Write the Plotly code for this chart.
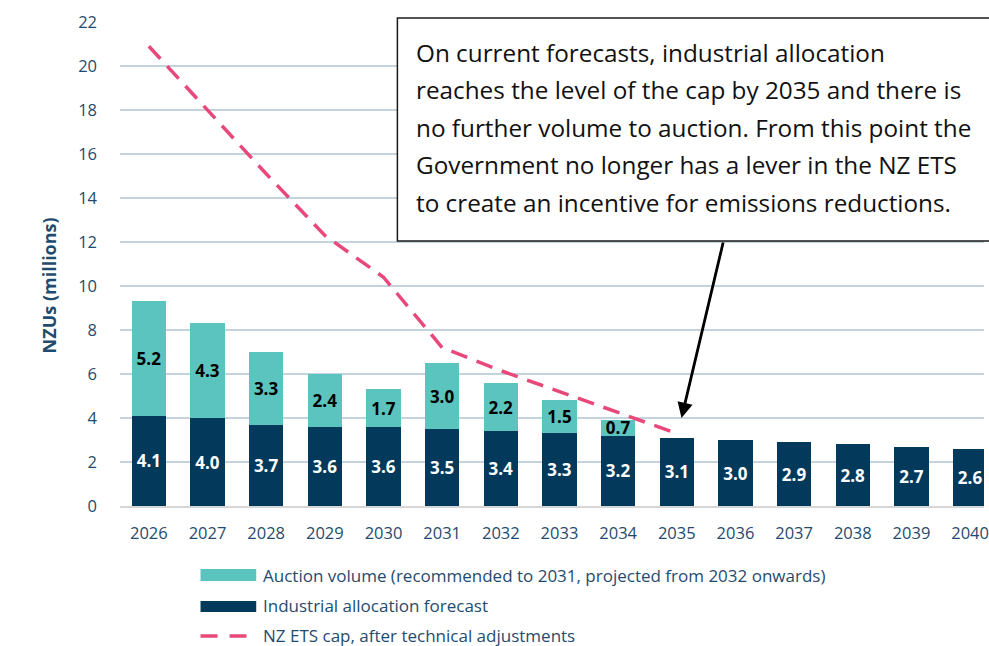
import plotly.graph_objects as go

years = list(range(2026, 2041))
industrial = [4.1, 4.0, 3.7, 3.6, 3.6, 3.5, 3.4, 3.3, 3.2, 3.1, 3.0, 2.9, 2.8, 2.7, 2.6]
auction = [5.2, 4.3, 3.3, 2.4, 1.7, 3.0, 2.2, 1.5, 0.7, None, None, None, None, None, None]
cap_years = list(range(2026, 2036))
cap = [20.9, 18.0, 15.1, 12.3, 10.4, 7.2, 6.15, 5.2, 4.25, 3.3]
y_ticks = list(range(0, 23, 2))

y_title = "NZUs (millions)"
legend_labels = [
    "Auction volume (recommended to 2031, projected from 2032 onwards)",
    "Industrial allocation forecast",
    "NZ ETS cap, after technical adjustments",
]
note_lines = [
    "On current forecasts, industrial allocation",
    "reaches the level of the cap by 2035 and there is",
    "no further volume to auction. From this point the",
    "Government no longer has a lever in the NZ ETS",
    "to create an incentive for emissions reductions.",
]

TEAL = "#5BC4BE"
NAVY = "#03395B"
PINK = "#E8487A"
GRID = "#C3D4DD"
TXT = "#1F4B6E"
FONT = "Open Sans"

W, H = 989, 646
L, R, T, B = 120, 0, 22, 140
PW, PH = W - L - R, H - T - B


def px(x):
    return (x - L) / PW


def py(y):
    return (H - B - y) / PH


fig = go.Figure()

fig.add_trace(go.Bar(
    x=years, y=industrial, name=legend_labels[1], marker=dict(color=NAVY, line=dict(width=0)),
    text=[f"{v:.1f}" for v in industrial], textposition="inside", insidetextanchor="middle",
    textangle=0, constraintext="none",
    textfont=dict(color="white", size=17, family=FONT, weight="bold"),
    width=0.585, hoverinfo="skip",
))
fig.add_trace(go.Bar(
    x=years, y=auction, name=legend_labels[0], marker=dict(color=TEAL, line=dict(width=0)),
    text=[f"{v:.1f}" if v is not None else "" for v in auction], textposition="inside",
    insidetextanchor="middle", textangle=0, constraintext="none",
    textfont=dict(color="black", size=17, family=FONT, weight="bold"),
    width=0.585, hoverinfo="skip",
))
fig.add_trace(go.Scatter(
    x=cap_years, y=cap, mode="lines", name=legend_labels[2],
    line=dict(color=PINK, width=3.5, dash="17px,10px"), hoverinfo="skip",
))

shapes = []
annotations = []

# annotation box
shapes.append(dict(type="rect", xref="paper", yref="paper",
                   x0=px(399), x1=px(1000), y0=py(241), y1=py(18),
                   line=dict(color="#1a1a1a", width=1.5), fillcolor="white", layer="above"))
line_ys = [52, 89, 127, 164, 202]
for t, yy in zip(note_lines, line_ys):
    annotations.append(dict(xref="paper", yref="paper", x=px(416), y=py(yy), text=t,
                            showarrow=False, xanchor="left", yanchor="middle",
                            font=dict(family="Open Sans", size=24.3, color="#111111")))

# arrow pointing at the 2035 cap point
annotations.append(dict(xref="x", yref="y", x=cap_years[-1] + 0.08, y=cap[-1] + 0.7, text="",
                        showarrow=True, arrowhead=2, arrowsize=1.1, arrowwidth=2.8,
                        arrowcolor="black", ax=727 - 685, ay=242 - 419, axref="pixel", ayref="pixel"))

# y-axis title (placed as in the reference, slightly below the plot middle)
annotations.append(dict(xref="paper", yref="paper", x=px(49), y=py(285), text=f"<b>{y_title}</b>",
                        showarrow=False, textangle=-90, xanchor="center", yanchor="middle",
                        font=dict(family=FONT, size=18, color=TXT)))

# manual legend
leg_y = [575, 605, 635]
shapes.append(dict(type="rect", xref="paper", yref="paper", x0=px(201), x1=px(257),
                   y0=py(581), y1=py(569), fillcolor=TEAL, line=dict(width=0)))
shapes.append(dict(type="rect", xref="paper", yref="paper", x0=px(201), x1=px(257),
                   y0=py(612), y1=py(601), fillcolor=NAVY, line=dict(width=0)))
shapes.append(dict(type="line", xref="paper", yref="paper", x0=px(201), x1=px(248),
                   y0=py(636), y1=py(636), line=dict(color=PINK, width=3.5, dash="17px,12px")))
for t, yy in zip(legend_labels, leg_y):
    annotations.append(dict(xref="paper", yref="paper", x=px(262), y=py(yy), text=t,
                            showarrow=False, xanchor="left", yanchor="middle",
                            font=dict(family=FONT, size=17, color=TXT)))

fig.update_layout(
    width=W, height=H, barmode="stack", showlegend=False,
    margin=dict(l=L, r=R, t=T, b=B, pad=0),
    plot_bgcolor="white", paper_bgcolor="white",
    font=dict(family=FONT, color=TXT),
    shapes=shapes, annotations=annotations,
    xaxis=dict(range=[2025.508, 2025.508 + PW / 59.0], tickmode="array", tickvals=years,
               ticktext=[str(y) for y in years], showgrid=False, zeroline=False,
               showline=True, linecolor="#D6D6D6", linewidth=1.5, ticks="",
               tickfont=dict(size=16.5, color=TXT, family=FONT), ticklabelstandoff=11,
               ticklabeloverflow="allow"),
    yaxis=dict(range=[0, 22], tickmode="array", tickvals=y_ticks, showgrid=True,
               gridcolor=GRID, gridwidth=1.5, zeroline=False, showline=False, ticks="",
               tickfont=dict(size=16.5, color=TXT, family=FONT), ticklabelstandoff=22),
)

fig.write_html("out.html", config={"displayModeBar": False},
               post_script="document.body.style.margin='0';document.body.style.overflow='hidden';")
